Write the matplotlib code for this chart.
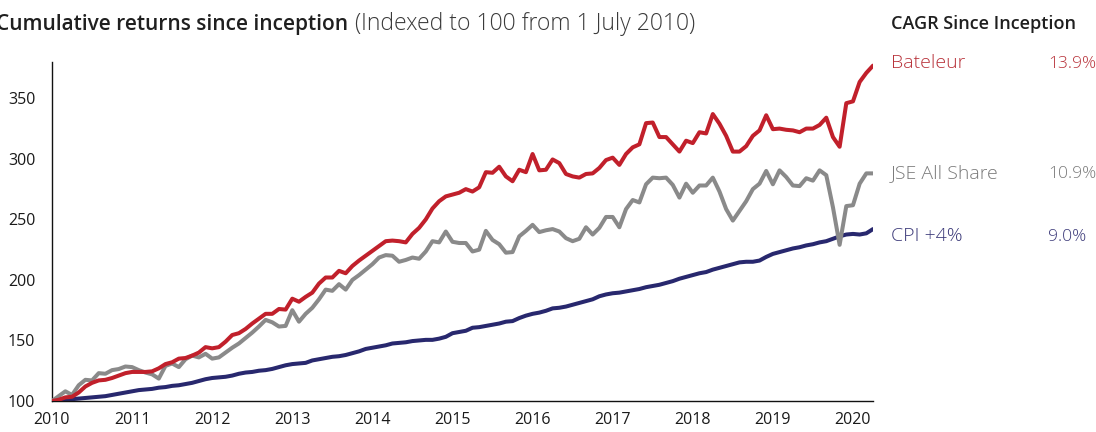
import matplotlib
matplotlib.use("Agg")
import matplotlib.pyplot as plt
import numpy as np

# ---------------- data (monthly, indexed to 100) ----------------
year_labels = ["2010", "2011", "2012", "2013", "2014", "2015", "2016",
               "2017", "2018", "2019", "2020"]

bateleur = [100, 101, 103, 103.5, 107, 112, 115, 117, 117.5, 119, 121, 123,
            124, 124, 124, 124.5, 127, 130.5, 132, 135, 135.5, 137.5, 140, 144.5,
            143.5, 144.5, 149, 154.5, 156, 159.5, 164, 168, 172, 172, 176, 175.5,
            184.5, 182, 186, 189.5, 197, 202, 202, 207.5, 205.5, 211.5, 216, 220,
            224, 228, 232, 232.5, 232, 231, 238, 243, 250, 259, 265, 269,
            270.5, 272, 275, 273, 276.5, 289, 288.5, 293.5, 285.5, 281.5, 291, 289,
            304, 290.5, 291, 299.5, 296.5, 287.5, 285.5, 284.5, 287.5, 288, 292.5, 299,
            301, 295, 304, 309.5, 312, 329.5, 330, 318, 318, 312, 306, 315,
            313, 322, 321, 337, 329, 319, 306, 306, 310.5, 319, 323.5, 336,
            324.5, 325, 324, 323.5, 322, 325, 325, 328, 334, 318, 310, 346,
            347.5, 363.5, 371, 377]

jse = [100, 104, 108, 105, 113, 117.5, 117, 123, 122.5, 125.5, 126.4, 128.5,
       128, 125.5, 123.5, 122, 118.5, 129, 131, 128, 134.5, 137.5, 136, 139,
       135, 136, 140, 144, 147.5, 152, 156.5, 161.5, 167, 165, 161.5, 162,
       175, 165.5, 172, 177, 184, 192, 191, 196.5, 192, 200, 204, 208.5,
       213, 218.5, 220.5, 220, 215, 216.5, 218.5, 217.5, 223.5, 232, 231, 240,
       231.5, 230.5, 230.5, 223.5, 225, 240.5, 233, 229.5, 222.5, 223, 236, 240.5,
       245.5, 239.5, 241, 242, 240, 234.5, 232, 234, 243.5, 237.5, 243, 252,
       252, 243.5, 258.5, 266, 264, 279, 284.5, 284, 284.5, 278.5, 268, 279.5,
       272, 278, 278, 284.5, 273, 258.5, 249, 257, 265, 275, 279.5, 290,
       279, 290.5, 285, 278, 277.5, 284, 282, 290.5, 286.5, 260, 229, 261,
       261.7, 279.5, 288, 288]

cpi = [100, 100.5, 101, 101.5, 102, 102.5, 103, 103.5, 104, 105, 106, 107,
       108, 109, 109.5, 110, 111, 111.5, 112.5, 113, 114, 115, 116.5, 118,
       119, 119.5, 120, 121, 122.5, 123.5, 124, 125, 125.5, 126.5, 128, 129.5,
       130.5, 131, 131.5, 133.5, 134.5, 135.5, 136.5, 137, 138, 139.5, 141, 143,
       144, 145, 146, 147.5, 148, 148.5, 149.5, 150, 150.5, 150.5, 151.5, 153,
       156, 157, 158, 160.5, 161, 162, 163, 164, 165.5, 166, 168.5, 170.5,
       172, 173, 174.5, 176.5, 177, 178, 179.5, 181, 182.5, 184, 186.5, 188,
       189, 189.5, 190.5, 191.5, 192.5, 194, 195, 196, 197.5, 199, 201, 202.5,
       204, 205.5, 206.5, 208.5, 210, 211.5, 213, 214.5, 215, 215, 216, 219,
       221.5, 223, 224.5, 226, 227, 228.5, 229.5, 231, 232, 234, 236, 237.5,
       238, 237.5, 238.5, 242]

series_names = ["Bateleur", "JSE All Share", "CPI +4%"]
cagr = ["13.9%", "10.9%", "9.0%"]

# ---------------- style ----------------
FONT = ["Open Sans", "DejaVu Sans"]
plt.rcParams["font.family"] = FONT

RED = "#C1202B"
GRAY = "#8A8A8A"
NAVY = "#28286E"
RED_T = "#B8323A"
GRAY_T = "#7A7A7A"
NAVY_T = "#3A3878"

W, H = 1096, 432
fig = plt.figure(figsize=(W / 100, H / 100), dpi=100)

def fx(px):
    return px / W

def fy(py):
    return 1 - py / H

ax_left, ax_right, ax_top, ax_bot = 52, 873, 62, 401
ax = fig.add_axes([fx(ax_left), fy(ax_bot), fx(ax_right - ax_left),
                   (ax_bot - ax_top) / H])

months = np.arange(len(bateleur))
ax.plot(months, cpi, color=NAVY, lw=2.9, solid_capstyle="round", zorder=2)
ax.plot(months, jse, color=GRAY, lw=2.9, solid_capstyle="round", zorder=3)
ax.plot(months, bateleur, color=RED, lw=2.9, solid_capstyle="round", zorder=4)

ax.set_xlim(0, len(bateleur) - 1)
ax.set_ylim(100, 380)
ax.set_yticks([100, 150, 200, 250, 300, 350])
ax.set_xticks(np.arange(len(year_labels)) * 12)
ax.set_xticklabels(year_labels)
ax.tick_params(axis="both", length=0, labelsize=11.5, colors="#1a1a1a")
ax.tick_params(axis="y", pad=12)
ax.tick_params(axis="x", pad=8)
for s in ["top", "right"]:
    ax.spines[s].set_visible(False)
for s in ["left", "bottom"]:
    ax.spines[s].set_color("#111111")
    ax.spines[s].set_linewidth(1.0)
ax.patch.set_alpha(0)

# ---------------- titles ----------------
fig.text(fx(-4), fy(30), "Cumulative returns since inception", fontsize=15,
         fontweight="semibold", color="#1f1f1f", va="baseline", ha="left")
fig.text(fx(355), fy(30), "(Indexed to 100 from 1 July 2010)", fontsize=16.5,
         fontweight="light", color="#3a3a3a", va="baseline", ha="left")
fig.text(fx(891), fy(29), "CAGR Since Inception", fontsize=13,
         fontweight="semibold", color="#1f1f1f", va="baseline", ha="left")

# ---------------- end labels ----------------
label_base = [68, 178, 241]
cols = [RED_T, GRAY_T, NAVY_T]
for name, val, yb, c in zip(series_names, cagr, label_base, cols):
    fig.text(fx(891), fy(yb), name, fontsize=14, fontweight="light", color=c,
             va="baseline", ha="left")
    fig.text(fx(1048), fy(yb), val, fontsize=12.5, fontweight="light", color=c,
             va="baseline", ha="left")

fig.savefig("out.png", dpi=100)
